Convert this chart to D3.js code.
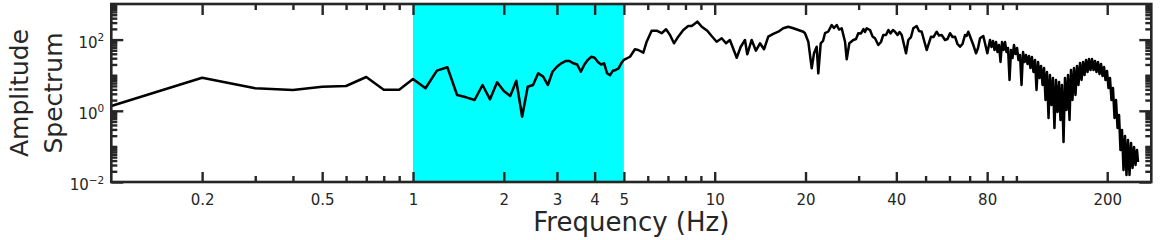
<!DOCTYPE html>
<html><head><meta charset="utf-8">
<script src="https://cdn.jsdelivr.net/npm/d3@7"></script>
<style>
body{margin:0;background:#fff}
svg{display:block}
text{font-family:"DejaVu Sans",sans-serif;fill:#262626}
</style>
</head><body>
<svg id="chart" width="1162" height="240"></svg>
<script>
// ---- data ----
const freqLow = [0.1,0.2,0.3,0.4,0.5,0.6,0.7,0.8,0.9,1.0,1.1,1.2,1.3,1.4,1.5,1.6,1.7,1.8,1.9,2.0,2.1,2.2,2.3,2.4,2.5,2.6,2.7,2.8,2.9,3.0,3.1,3.2,3.3,3.4,3.5,3.6,3.7,3.8,3.9,4.0,4.1,4.2,4.3,4.4,4.5,4.6,4.7,4.8,4.9,5.0];
const ampLow = [1.36,8.5,4.3,3.84,4.75,4.97,8.9,3.92,3.92,7.8,4.3,13.4,16.7,2.78,2.39,2.01,5.3,2.1,6.3,3.6,2.6,7.0,0.68,4.75,5.3,11.3,9.1,5.3,12.5,17.3,21.6,25,25,21.6,20,12.5,20,27,33,31,23.6,20,21.6,11.3,10,13.4,14,15.6,21.6,27];

const freqMid = [5.24,5.44,5.58,5.80,5.95,6.18,6.42,6.67,6.90,7.11,7.33,7.57,7.87,8.17,8.39,8.76,9.06,9.45,9.77,10.15,10.55,10.90,11.23,11.83,12.20,12.60,12.82,13.26,13.70,14.13,14.57,15.05,15.64,16.25,16.88,17.54,18.22,18.93,19.67];
const ampMid = [33.0,53.4,51,42.8,87.3,178,178,151,195,135,78.7,121,186,241,241,319,230,178,126.5,87.3,109,78.7,97.5,31,63.1,97.5,38.6,97.5,48.8,78.7,53.4,121,144,166.5,208,230,208,186,166.5];

const freqHigh = [19.92,20.43,20.97,21.34,21.78,22.05,22.46,22.86,23.21,23.80,24.42,24.86,25.38,25.83,26.36,27.04,27.39,27.94,28.81,29.40,29.92,30.54,31.13,31.49,31.90,32.72,33.35,33.99,34.86,35.58,36.21,36.97,37.63,38.26,38.99,39.60,40.36,40.99,41.68,43.07,43.83,44.74,45.53,46.72,47.55,48.54,50.43,52.12,53.12,54.43,55.40,56.55,57.99,59.11,60.26,61.42,62.59,63.80,65.03,66.29,67.56,68.34,69.28,71.99,73.49,74.62,75.76,77.69,80.10];
const ampHigh = [151,87.3,15.6,41.2,63.1,11.3,78.7,91.4,151,169,257,212,257,192,208,87.3,27.9,78.7,97.5,104,151,149,198,163,208,186,123,109,70.5,85.6,135,135,186,149,186,166.5,135,163,135,41.2,97.5,118,208,241,174,166.5,51,121,118,166.5,130,135,97.5,104,151,118,121,75.2,63.1,75.2,135,126.5,166.5,70.5,41.2,58.0,109,126.5,41.2];

const freqTop = [81.76,82.70,83.66,84.62,85.60,86.59,87.58,88.59,89.61,90.64,91.69,92.74,93.82,94.90,95.97,97.08,98.19,99.33,100.5,101.6,102.8,104.0,105.2,106.4,107.6,108.9,110.1,111.3,112.6,113.9,115.3,116.6,118.0,119.3,120.7,122.1,123.5,124.9,126.3,127.8,129.2,130.7,132.2,133.7,135.3,136.9,138.5,140.0,141.6,143.3,144.9,146.6,148.3,150.0,151.7,153.4,155.2,157.0,158.8,160.6,162.5,164.4,166.3,168.2,170.1,172.1,174.0,176.1,178.1,180.2,182.2,184.3,186.4,188.6,190.8,193.0,195.2,197.4,199.7,202.0,204.3,206.6,209.0,211.5,213.9,216.4,218.9,221.3,223.9,226.5,229.1,231.7,234.4,237.1,239.9,242.7,245.5,248.2,251.1,253.0];
const ampTop = [97.5,61.9,91.4,51,85.6,44.8,70.5,23.5,85.6,51,85.6,44.8,58.0,7.33,51,30.4,70.5,39.4,58.0,26.7,36.9,5.3,44.8,23.5,36.9,20.6,34.6,15.9,32.4,12.3,26.7,3.84,23.5,8.32,18.2,5.3,15.9,2.01,12.3,0.628,10.1,1.46,8.32,0.330,7.33,0.925,6.44,0.552,5.3,0.133,8.32,1.05,10.1,0.552,14.0,2.01,15.9,2.78,18.2,5.3,22.0,7.33,23.5,10.1,26.7,12.3,28.5,14.0,28.5,14.0,25.0,12.3,23.5,10.8,20.6,9.47,17.0,7.33,13.1,4.36,8.32,2.01,4.36,0.628,2.01,0.330,0.762,0.079,0.289,0.0217,0.196,0.0157,0.151,0.0157,0.125,0.0247,0.0961,0.0300,0.079,0.0365];

const bandHz = [1, 5];
const xTickLabels = [0.2,0.5,1,2,3,4,5,10,20,40,80,200];
const xMinorTicks = [0.3,0.4,0.6,0.7,0.8,0.9,6,7,8,9,30,50,60,70,90,100];
const yTickLabels = [0.01, 1, 100];
const yTickExponents = ["\u22122", "0", "2"];
const yMinorTicks = [0.02,0.03,0.04,0.05,0.06,0.07,0.08,0.09,0.1,0.2,0.3,0.4,0.5,0.6,0.7,0.8,0.9,2,3,4,5,6,7,8,9,10,20,30,40,50,60,70,80,90,200,300,400,500,600,700,800,900];

// ---- layout ----
const L = 111.3, R = 1151.3, T = 4, B = 182;
const ink = "#262626";
const svg = d3.select("#chart");

const freq = freqLow.concat(freqMid, freqHigh, freqTop);
const amp = ampLow.concat(ampMid, ampHigh, ampTop);
const data = freq.map((f, i) => [f, amp[i]]);

const x = d3.scaleLog().domain([0.1, 280]).range([L, R]);
const y = d3.scaleLog().domain([0.01, 1000]).range([B, T]);

// shaded band
svg.append("rect")
  .attr("x", x(bandHz[0])).attr("y", T)
  .attr("width", x(bandHz[1]) - x(bandHz[0])).attr("height", B - T)
  .attr("fill", "#00ffff");

// spectrum line
svg.append("path")
  .datum(data)
  .attr("fill", "none").attr("stroke", "#000").attr("stroke-width", 2.5)
  .attr("stroke-linejoin", "round")
  .attr("d", d3.line().x(d => x(d[0])).y(d => y(d[1])));

function styleAxis(g) {
  g.select(".domain").remove();
  g.selectAll(".tick line").attr("stroke", ink).attr("stroke-width", 2.4);
  g.selectAll(".tick text").attr("fill", ink).style("font-size", "15px")
   .style("font-family", "'DejaVu Sans',sans-serif");
}

// x axes
svg.append("g").attr("transform", `translate(0,${B})`)
  .call(d3.axisBottom(x).tickValues(xTickLabels).tickSize(-10).tickPadding(12)
        .tickFormat(d => d3.format("~g")(d)))
  .call(styleAxis);
svg.append("g").attr("transform", `translate(0,${B})`)
  .call(d3.axisBottom(x).tickValues(xMinorTicks).tickSize(-6).tickFormat(""))
  .call(styleAxis);
svg.append("g").attr("transform", `translate(0,${T})`)
  .call(d3.axisTop(x).tickValues(xTickLabels).tickSize(-11).tickFormat(""))
  .call(styleAxis);
svg.append("g").attr("transform", `translate(0,${T})`)
  .call(d3.axisTop(x).tickValues(xMinorTicks).tickSize(-6).tickFormat(""))
  .call(styleAxis);

// y axes
const yl = svg.append("g").attr("transform", `translate(${L},0)`)
  .call(d3.axisLeft(y).tickValues(yTickLabels).tickSize(-12).tickPadding(7).tickFormat(""))
  .call(styleAxis);
yl.selectAll(".tick text").each(function(d, i) {
  const t = d3.select(this).attr("dy", null).attr("y", 7.7);
  t.text(null);
  t.append("tspan").text("10");
  t.append("tspan").attr("dy", -6.7).style("font-size", "10.5px").text(yTickExponents[i]);
});
svg.append("g").attr("transform", `translate(${L},0)`)
  .call(d3.axisLeft(y).tickValues(yMinorTicks).tickSize(-6).tickFormat(""))
  .call(styleAxis);
svg.append("g").attr("transform", `translate(${R},0)`)
  .call(d3.axisRight(y).tickValues(yTickLabels).tickSize(-12).tickFormat(""))
  .call(styleAxis);
svg.append("g").attr("transform", `translate(${R},0)`)
  .call(d3.axisRight(y).tickValues(yMinorTicks).tickSize(-6).tickFormat(""))
  .call(styleAxis);

// frame
svg.append("rect").attr("x", L).attr("y", T).attr("width", R - L).attr("height", B - T)
  .attr("fill", "none").attr("stroke", ink).attr("stroke-width", 2.6);

// titles
svg.append("text").attr("x", (L + R) / 2).attr("y", 231).attr("text-anchor", "middle")
  .style("font-size", "26px").text("Frequency (Hz)");
const yt = svg.append("g").attr("transform", `translate(0,${(T + B) / 2})`);
yt.append("text").attr("transform", "translate(28,0) rotate(-90)").attr("text-anchor", "middle")
  .style("font-size", "25px").text("Amplitude");
yt.append("text").attr("transform", "translate(62,0) rotate(-90)").attr("text-anchor", "middle")
  .style("font-size", "25px").text("Spectrum");
</script>
</body></html>
